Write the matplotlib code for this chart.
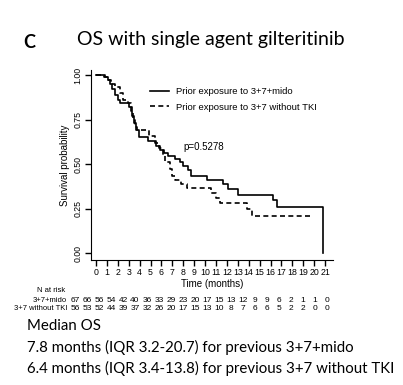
import numpy as np
import matplotlib
matplotlib.use('Agg')
import matplotlib.pyplot as plt

# Kaplan-Meier steps (time in months, survival after the step)
mido_t = [0, 0.8, 1.1, 1.3, 1.5, 1.7, 2.0, 2.2, 3.0, 3.3, 3.5, 3.7, 3.9, 4.8, 5.5, 5.9, 6.2,
          6.6, 7.2, 7.7, 8.0, 8.4, 8.7, 10.2, 11.6, 12.1, 13.0, 16.2, 16.6, 20.8]
mido_s = [1.0, 0.99, 0.97, 0.95, 0.92, 0.89, 0.86, 0.84, 0.82, 0.77, 0.73, 0.69, 0.65, 0.63,
          0.60, 0.58, 0.56, 0.545, 0.53, 0.51, 0.49, 0.465, 0.43, 0.41, 0.385, 0.36, 0.326,
          0.30, 0.258, 0.0]
notki_t = [0, 0.7, 1.0, 1.4, 1.7, 2.2, 2.5, 2.9, 3.2, 3.4, 3.6, 3.8, 4.9, 5.4, 5.8, 6.1, 6.3,
           6.8, 7.0, 7.2, 7.8, 8.3, 10.5, 11.0, 11.4, 13.8, 14.3, 19.9]
notki_s = [1.0, 0.99, 0.97, 0.95, 0.93, 0.90, 0.86, 0.84, 0.80, 0.75, 0.71, 0.69, 0.66, 0.62,
           0.59, 0.55, 0.51, 0.47, 0.43, 0.41, 0.385, 0.365, 0.34, 0.31, 0.28, 0.25, 0.21, 0.21]

risk_times = list(range(0, 22))
risk_mido = [67, 66, 56, 54, 42, 40, 36, 33, 29, 23, 20, 17, 15, 13, 12, 9, 9, 6, 2, 1, 1, 0]
risk_notki = [56, 53, 52, 44, 39, 37, 32, 26, 20, 17, 15, 13, 10, 8, 7, 6, 6, 5, 2, 2, 0, 0]

labels = ['Prior exposure to 3+7+mido', 'Prior exposure to 3+7 without TKI']
yticks = [0.0, 0.25, 0.5, 0.75, 1.0]

W, H = 403, 385
fig = plt.figure(figsize=(W / 100, H / 100), dpi=100)

def fx(x):
    return x / W

def fy(y):
    return 1 - y / H

ax = fig.add_axes([fx(91), fy(260), fx(333) - fx(91), fy(70) - fy(260)])

ax.step(mido_t, mido_s, where='post', color='black', lw=1.2, label=labels[0])
ax.step(notki_t, notki_s, where='post', color='black', lw=1.2, dashes=(3, 2), label=labels[1])

ax.set_xlim(-0.46, 21.73)
ax.set_ylim(-0.039, 1.028)
ax.set_xticks(risk_times)
ax.set_xticklabels([str(t) for t in risk_times], fontsize=6.3, family='Liberation Sans')
ax.set_yticks(yticks)
ax.set_yticklabels(['%.2f' % v for v in yticks], rotation=90, va='center',
                   fontsize=6.3, family='Liberation Sans')
ax.tick_params(length=4, width=1, pad=2)
ax.spines['top'].set_visible(False)
ax.spines['right'].set_visible(False)
ax.set_xlabel('Time (months)', fontsize=7, family='Liberation Sans', labelpad=1)
ax.set_ylabel('Survival probability', fontsize=7, family='Liberation Sans', labelpad=3)

ax.legend(loc='upper left', bbox_to_anchor=(fx(150), fy(87)), bbox_transform=fig.transFigure,
          frameon=False, handlelength=2.0, handletextpad=0.8, borderpad=0, borderaxespad=0,
          labelspacing=0.7, prop={'family': 'Liberation Sans', 'size': 6.8})

ax.text(fx(183), fy(147), 'p=0.5278', transform=fig.transFigure, fontsize=7,
        family='Liberation Sans', va='center', ha='left')

# number at risk table
fig.text(fx(65), fy(291), 'N at risk', fontsize=5.5, family='Liberation Sans', ha='right', va='center')
fig.text(fx(67), fy(300), '3+7+mido', fontsize=5.5, family='Liberation Sans', ha='right', va='center')
fig.text(fx(67), fy(308), '3+7 without TKI', fontsize=5.5, family='Liberation Sans', ha='right', va='center')
xs = np.linspace(75, 327, len(risk_times))
for x, a, b in zip(xs, risk_mido, risk_notki):
    fig.text(fx(x), fy(300), str(a), fontsize=6, family='Liberation Sans', ha='center', va='center')
    fig.text(fx(x), fy(308), str(b), fontsize=6, family='Liberation Sans', ha='center', va='center')

# headings and notes
fig.text(fx(23), fy(43), 'C', fontsize=13, family='Lato', weight='bold', va='center')
fig.text(fx(77), fy(40), 'OS with single agent gilteritinib', fontsize=14, family='Lato', va='center')
fig.text(fx(27), fy(326), 'Median OS', fontsize=10.8, family='Lato', va='center')
fig.text(fx(27), fy(347), '7.8 months (IQR 3.2-20.7) for previous 3+7+mido', fontsize=10.8,
         family='Lato', va='center')
fig.text(fx(27), fy(368), '6.4 months (IQR 3.4-13.8) for previous 3+7 without TKI', fontsize=10.8,
         family='Lato', va='center')

fig.savefig('out.png', dpi=100)
